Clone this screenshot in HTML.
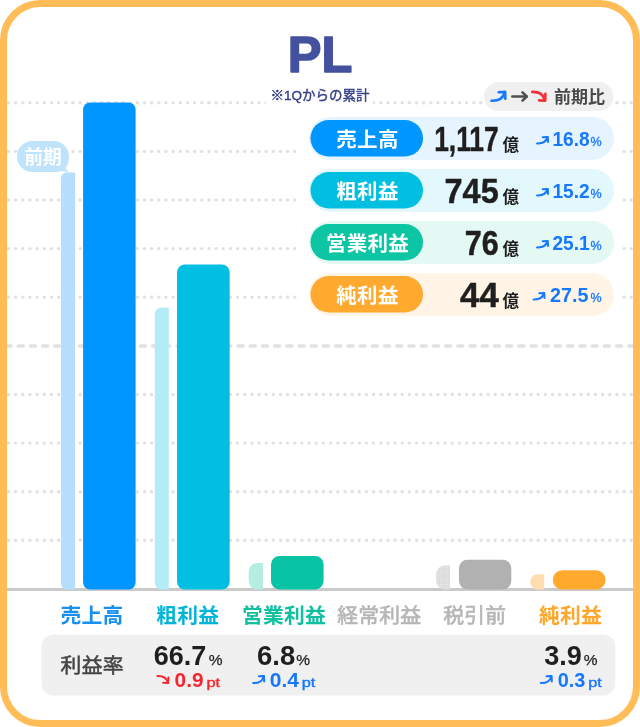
<!DOCTYPE html>
<html lang="ja"><head><meta charset="utf-8"><title>PL</title>
<style>
html,body{margin:0;padding:0;background:#fff;}
body{width:640px;height:727px;overflow:hidden;}
svg{display:block;}
text{font-family:"Liberation Sans","Noto Sans CJK JP",sans-serif;}
.b{font-weight:700;}
.m{font-weight:500;}
</style></head><body>
<svg width="640" height="727" viewBox="0 0 640 727">

<defs><pattern id="dots" x="0" y="0" width="2.4" height="2.4" patternUnits="userSpaceOnUse"><circle cx="1.2" cy="1.2" r="0.55" fill="#fff" fill-opacity="0.55"/></pattern></defs>
<rect x="3.5" y="3.5" width="633" height="720" rx="37" ry="37" fill="#fff"/>
<line x1="8.5" x2="632" y1="102.8" y2="102.8" stroke="#e1e1e1" stroke-width="3.4" stroke-linecap="round" stroke-dasharray="0 7.158"/>
<line x1="8.5" x2="632" y1="151.4" y2="151.4" stroke="#e1e1e1" stroke-width="3.4" stroke-linecap="round" stroke-dasharray="0 7.158"/>
<line x1="8.5" x2="632" y1="200" y2="200" stroke="#e1e1e1" stroke-width="3.4" stroke-linecap="round" stroke-dasharray="0 7.158"/>
<line x1="8.5" x2="632" y1="248.6" y2="248.6" stroke="#e1e1e1" stroke-width="3.4" stroke-linecap="round" stroke-dasharray="0 7.158"/>
<line x1="8.5" x2="632" y1="297.2" y2="297.2" stroke="#e1e1e1" stroke-width="3.4" stroke-linecap="round" stroke-dasharray="0 7.158"/>
<line x1="8.5" x2="632" y1="394.5" y2="394.5" stroke="#e1e1e1" stroke-width="3.4" stroke-linecap="round" stroke-dasharray="0 7.158"/>
<line x1="8.5" x2="632" y1="443.1" y2="443.1" stroke="#e1e1e1" stroke-width="3.4" stroke-linecap="round" stroke-dasharray="0 7.158"/>
<line x1="8.5" x2="632" y1="491.7" y2="491.7" stroke="#e1e1e1" stroke-width="3.4" stroke-linecap="round" stroke-dasharray="0 7.158"/>
<line x1="8.5" x2="632" y1="540.3" y2="540.3" stroke="#e1e1e1" stroke-width="3.4" stroke-linecap="round" stroke-dasharray="0 7.158"/>
<line x1="6.09" x2="634" y1="346" y2="346" stroke="#e1e1e1" stroke-width="3.6" stroke-linecap="round" stroke-dasharray="4.9 7.311"/>
<rect x="7" y="588" width="626" height="3" fill="#cacaca"/>
<path d="M75,172.5 H67 A6,6 0 0 0 61,178.5 V583.5 A6,6 0 0 0 67,589.5 H75 Z" fill="#B5DFFC"/>
<rect x="83.1" y="102.5" width="52.5" height="487.0" rx="7" fill="#0096FF"/>
<path d="M168.8,307.5 H161.8 A7,7 0 0 0 154.8,314.5 V582.5 A7,7 0 0 0 161.8,589.5 H168.8 Z" fill="#B3ECF6"/>
<rect x="177" y="264.4" width="52.7" height="325.1" rx="8" fill="#00BFE0"/>
<path d="M263.0,563 H257.2 A8.5,8.5 0 0 0 248.7,571.5 V581.0 A8.5,8.5 0 0 0 257.2,589.5 H263.0 Z" fill="#B5EDE3"/>
<rect x="271" y="556" width="52.6" height="33.5" rx="8.5" fill="#08C4A5"/>
<path d="M450.0,565.6 H444.7 A8.5,8.5 0 0 0 436.2,574.1 V581.0 A8.5,8.5 0 0 0 444.7,589.5 H450.0 Z" fill="#dcdcdc"/>
<path d="M450.0,565.6 H444.7 A8.5,8.5 0 0 0 436.2,574.1 V581.0 A8.5,8.5 0 0 0 444.7,589.5 H450.0 Z" fill="url(#dots)"/>
<rect x="459" y="559.7" width="52.3" height="29.799999999999955" rx="8.5" fill="#B1B1B1"/>
<path d="M544.2,574.2 H537.8000000000001 A7.6,7.6 0 0 0 530.2,581.8000000000001 V581.9 A7.6,7.6 0 0 0 537.8000000000001,589.5 H544.2 Z" fill="#FFDDAE"/>
<rect x="552.8" y="570.3" width="52.7" height="19.200000000000045" rx="9.5" fill="#FFA92F"/>
<path d="M32.5,141 H53.5 A15.5,15.5 0 0 1 69,156.5 Q69,164 65.5,168 L68.5,172.5 L62,171 Q58,172 53.5,172 H32.5 A15.5,15.5 0 0 1 32.5,141 Z" fill="#BFE3FB"/>
<text x="43" y="163.5" text-anchor="middle" class="b" font-size="18.8" fill="#fff">前期</text>
<text x="320" y="71.8" text-anchor="middle" class="b" font-size="50.5" fill="#44519E" stroke="#44519E" stroke-width="1.6" stroke-linejoin="round">PL</text>
<rect x="266" y="85" width="107" height="20" fill="#fff"/>
<text x="320" y="99.5" text-anchor="middle" font-size="13.5" fill="#343F86" stroke="#343F86" stroke-width="0.4">※1Qからの累計</text>
<rect x="484" y="82" width="129.5" height="29" rx="14.5" fill="#F0F0F0"/>
<text x="554" y="103.2" class="b" font-size="17" fill="#484848">前期比</text>
<g fill="none" stroke="#1677FF" stroke-width="2.6" stroke-linecap="round" stroke-linejoin="round"><path d="M491.50,100.70 C498.40,100.90 502.99,98.81 504.80,92.30"/><path d="M498.73,92.20 L505.10,91.90 L505.30,98.81"/></g>
<g fill="none" stroke="#505050" stroke-width="2.6" stroke-linecap="round" stroke-linejoin="round"><path d="M512.30,96.50 H526.70"/><path d="M522.50,92.30 L526.70,96.50 L522.50,100.70"/></g>
<g fill="none" stroke="#F52F38" stroke-width="2.6" stroke-linecap="round" stroke-linejoin="round"><path d="M532.30,91.90 C538.85,91.70 543.25,93.79 544.90,100.30"/><path d="M539.16,100.40 L545.20,100.70 L545.40,93.79"/></g>
<rect x="299.5" y="115" width="321.5" height="47" fill="#fff"/>
<rect x="309" y="117" width="305" height="43" rx="21.5" fill="#E6F4FF"/>
<rect x="310.5" y="120" width="112.5" height="36.5" rx="18.25" fill="#0096FF"/>
<text x="367.5" y="146.5" text-anchor="middle" class="b" font-size="20.5" letter-spacing="0.3" fill="#fff">売上高</text>
<text x="498.7" y="151.3" text-anchor="end" class="b" font-size="35.5" fill="#1f1f1f" stroke="#1f1f1f" stroke-width="0.5" stroke-linejoin="round" textLength="64.5" lengthAdjust="spacingAndGlyphs">1,117</text>
<text x="502.5" y="150.5" class="b" font-size="16.5" fill="#1f1f1f">億</text>
<g fill="none" stroke="#1677FF" stroke-width="2" stroke-linecap="round" stroke-linejoin="round"><path d="M537.00,143.40 C542.50,143.60 546.14,142.05 547.50,137.40"/><path d="M542.76,137.30 L547.80,137.00 L548.00,142.05"/></g>
<text x="589.6" y="146" text-anchor="end" class="b" font-size="20" fill="#1677FF" textLength="37.2" lengthAdjust="spacingAndGlyphs">16.8</text>
<text x="601.5" y="146.3" text-anchor="end" font-size="12.5" fill="#1677FF" stroke="#1677FF" stroke-width="0.3">%</text>
<rect x="299.5" y="167" width="321.5" height="47" fill="#fff"/>
<rect x="309" y="169" width="305" height="43" rx="21.5" fill="#E3F8FC"/>
<rect x="310.5" y="172" width="112.5" height="36.5" rx="18.25" fill="#00BFE0"/>
<text x="367.5" y="198.5" text-anchor="middle" class="b" font-size="20.5" letter-spacing="0.3" fill="#fff">粗利益</text>
<text x="498.7" y="203.3" text-anchor="end" class="b" font-size="35.5" fill="#1f1f1f" stroke="#1f1f1f" stroke-width="0.5" stroke-linejoin="round" textLength="54.2" lengthAdjust="spacingAndGlyphs">745</text>
<text x="502.5" y="202.5" class="b" font-size="16.5" fill="#1f1f1f">億</text>
<g fill="none" stroke="#1677FF" stroke-width="2" stroke-linecap="round" stroke-linejoin="round"><path d="M537.00,195.40 C542.50,195.60 546.14,194.05 547.50,189.40"/><path d="M542.76,189.30 L547.80,189.00 L548.00,194.05"/></g>
<text x="589.6" y="198" text-anchor="end" class="b" font-size="20" fill="#1677FF" textLength="37.2" lengthAdjust="spacingAndGlyphs">15.2</text>
<text x="601.5" y="198.3" text-anchor="end" font-size="12.5" fill="#1677FF" stroke="#1677FF" stroke-width="0.3">%</text>
<rect x="299.5" y="219" width="321.5" height="47" fill="#fff"/>
<rect x="309" y="221" width="305" height="43" rx="21.5" fill="#E4F8F4"/>
<rect x="310.5" y="224" width="112.5" height="36.5" rx="18.25" fill="#0CC5A3"/>
<text x="367.5" y="250.5" text-anchor="middle" class="b" font-size="20.5" letter-spacing="0.3" fill="#fff">営業利益</text>
<text x="498.7" y="255.3" text-anchor="end" class="b" font-size="35.5" fill="#1f1f1f" stroke="#1f1f1f" stroke-width="0.5" stroke-linejoin="round" textLength="33.9" lengthAdjust="spacingAndGlyphs">76</text>
<text x="502.5" y="254.5" class="b" font-size="16.5" fill="#1f1f1f">億</text>
<g fill="none" stroke="#1677FF" stroke-width="2" stroke-linecap="round" stroke-linejoin="round"><path d="M537.00,247.40 C542.50,247.60 546.14,246.05 547.50,241.40"/><path d="M542.76,241.30 L547.80,241.00 L548.00,246.05"/></g>
<text x="589.6" y="250" text-anchor="end" class="b" font-size="20" fill="#1677FF" textLength="37.2" lengthAdjust="spacingAndGlyphs">25.1</text>
<text x="601.5" y="250.3" text-anchor="end" font-size="12.5" fill="#1677FF" stroke="#1677FF" stroke-width="0.3">%</text>
<rect x="299.5" y="271" width="321.5" height="47" fill="#fff"/>
<rect x="309" y="273" width="305" height="43" rx="21.5" fill="#FFF4E6"/>
<rect x="310.5" y="276" width="112.5" height="36.5" rx="18.25" fill="#FFA92F"/>
<text x="367.5" y="302.5" text-anchor="middle" class="b" font-size="20.5" letter-spacing="0.3" fill="#fff">純利益</text>
<text x="498.7" y="307.3" text-anchor="end" class="b" font-size="35.5" fill="#1f1f1f" stroke="#1f1f1f" stroke-width="0.5" stroke-linejoin="round" textLength="38.6" lengthAdjust="spacingAndGlyphs">44</text>
<text x="502.5" y="306.5" class="b" font-size="16.5" fill="#1f1f1f">億</text>
<g fill="none" stroke="#1677FF" stroke-width="2" stroke-linecap="round" stroke-linejoin="round"><path d="M533.50,299.40 C539.00,299.60 542.64,298.05 544.00,293.40"/><path d="M539.26,293.30 L544.30,293.00 L544.50,298.05"/></g>
<text x="588.5" y="302" text-anchor="end" class="b" font-size="20" fill="#1677FF" textLength="38.4" lengthAdjust="spacingAndGlyphs">27.5</text>
<text x="601.5" y="302.3" text-anchor="end" font-size="12.5" fill="#1677FF" stroke="#1677FF" stroke-width="0.3">%</text>
<text x="92" y="622.5" text-anchor="middle" class="b" font-size="20.8" letter-spacing="0.2" fill="#1890F0">売上高</text>
<text x="187.75" y="622.5" text-anchor="middle" class="b" font-size="20.8" letter-spacing="0.2" fill="#00B5D8">粗利益</text>
<text x="284" y="622.5" text-anchor="middle" class="b" font-size="20.8" letter-spacing="0.2" fill="#10C0A0">営業利益</text>
<text x="379.3" y="622.5" text-anchor="middle" font-size="20.8" letter-spacing="0.2" fill="#B6B6B6" stroke="#B6B6B6" stroke-width="0.65">経常利益</text>
<text x="474.85" y="622.5" text-anchor="middle" font-size="20.8" letter-spacing="0.2" fill="#B6B6B6" stroke="#B6B6B6" stroke-width="0.65">税引前</text>
<text x="570.6" y="622.5" text-anchor="middle" class="b" font-size="20.8" letter-spacing="0.2" fill="#FFA62B">純利益</text>
<rect x="41.5" y="634.6" width="573.8" height="61" rx="12" fill="#F0F0F0"/>
<text x="92.2" y="673.3" text-anchor="middle" font-size="20.8" letter-spacing="0.3" fill="#444" stroke="#444" stroke-width="0.55">利益率</text>
<text x="206.3" y="664.6" text-anchor="end" class="b" font-size="27" fill="#1f1f1f" textLength="52.6" lengthAdjust="spacingAndGlyphs">66.7</text>
<text x="222.5" y="664.8" text-anchor="end" font-size="15.5" fill="#1f1f1f" stroke="#1f1f1f" stroke-width="0.25">%</text>
<text x="203.6" y="686.8" text-anchor="end" class="b" font-size="19.5" fill="#F5262F" textLength="29" lengthAdjust="spacingAndGlyphs">0.9</text>
<text x="220" y="686.8" text-anchor="end" font-size="13.5" fill="#F5262F" stroke="#F5262F" stroke-width="0.4" textLength="13.6" lengthAdjust="spacingAndGlyphs">pt</text>
<g fill="none" stroke="#F5262F" stroke-width="2" stroke-linecap="round" stroke-linejoin="round"><path d="M157.40,676.00 C162.90,675.80 166.54,677.52 167.90,682.60"/><path d="M163.16,682.70 L168.20,683.00 L168.40,677.52"/></g>
<text x="295.3" y="664.6" text-anchor="end" class="b" font-size="27" fill="#1f1f1f" textLength="38.2" lengthAdjust="spacingAndGlyphs">6.8</text>
<text x="310" y="664.8" text-anchor="end" font-size="15.5" fill="#1f1f1f" stroke="#1f1f1f" stroke-width="0.25">%</text>
<text x="299" y="686.8" text-anchor="end" class="b" font-size="19.5" fill="#1677FF" textLength="29.2" lengthAdjust="spacingAndGlyphs">0.4</text>
<text x="315.3" y="686.8" text-anchor="end" font-size="13.5" fill="#1677FF" stroke="#1677FF" stroke-width="0.4" textLength="13.6" lengthAdjust="spacingAndGlyphs">pt</text>
<g fill="none" stroke="#1677FF" stroke-width="2" stroke-linecap="round" stroke-linejoin="round"><path d="M253.20,683.00 C258.70,683.20 262.34,681.48 263.70,676.40"/><path d="M258.96,676.30 L264.00,676.00 L264.20,681.48"/></g>
<text x="581.9" y="664.6" text-anchor="end" class="b" font-size="27" fill="#1f1f1f" textLength="37.6" lengthAdjust="spacingAndGlyphs">3.9</text>
<text x="597.5" y="664.8" text-anchor="end" font-size="15.5" fill="#1f1f1f" stroke="#1f1f1f" stroke-width="0.25">%</text>
<text x="585.4" y="686.8" text-anchor="end" class="b" font-size="19.5" fill="#1677FF" textLength="27.6" lengthAdjust="spacingAndGlyphs">0.3</text>
<text x="601.8" y="686.8" text-anchor="end" font-size="13.5" fill="#1677FF" stroke="#1677FF" stroke-width="0.4" textLength="13.6" lengthAdjust="spacingAndGlyphs">pt</text>
<g fill="none" stroke="#1677FF" stroke-width="2" stroke-linecap="round" stroke-linejoin="round"><path d="M540.80,683.00 C546.30,683.20 549.94,681.48 551.30,676.40"/><path d="M546.56,676.30 L551.60,676.00 L551.80,681.48"/></g>
<rect x="3.5" y="3.5" width="633" height="720" rx="37" ry="37" fill="none" stroke="#FFBC57" stroke-width="7"/>
</svg>
</body></html>
